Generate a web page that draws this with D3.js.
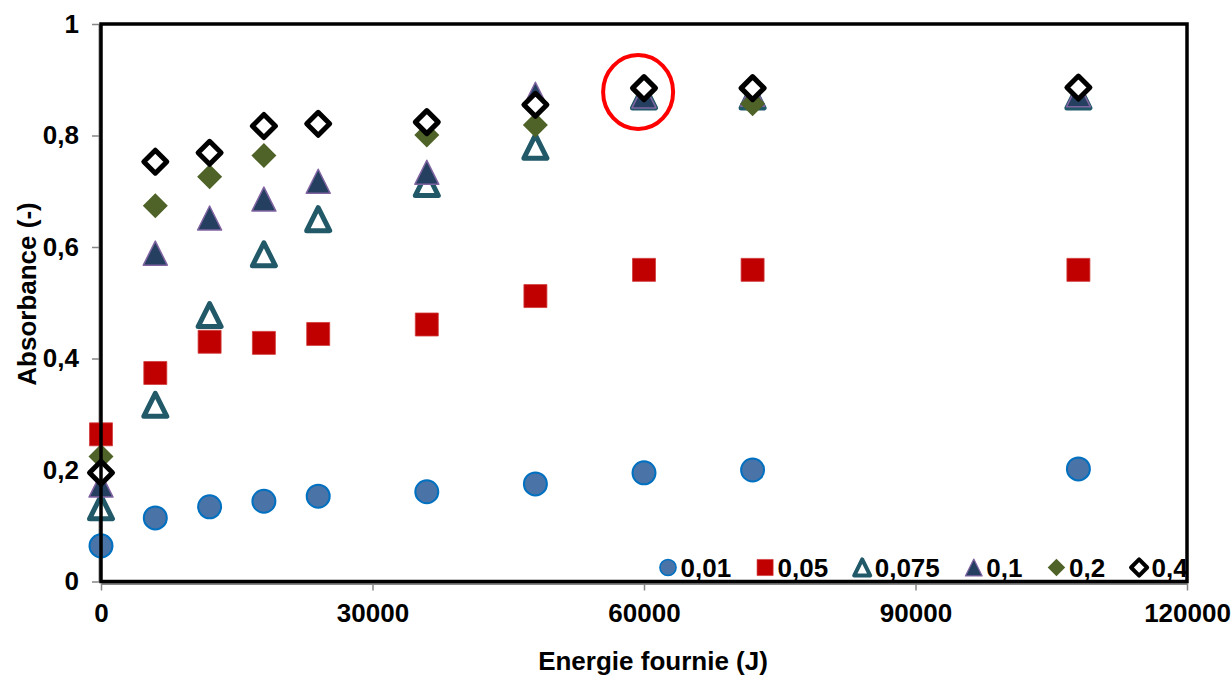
<!DOCTYPE html>
<html>
<head>
<meta charset="utf-8">
<script src="https://cdn.jsdelivr.net/npm/d3@7"></script>
<style>
  body { margin: 0; background: #fff; }
  svg { display: block; font-family: "Liberation Sans", Arial, sans-serif; font-weight: bold; }
  .tick text { font-size: 26px; fill: #000; }
  .tick line { stroke: #868686; stroke-width: 1.5; }
  .domain { stroke: #868686; stroke-width: 2; }
</style>
</head>
<body>
<svg id="chart" width="1232" height="675"></svg>
<script>
// energy supplied (J)
const energie = [0, 6000, 12000, 18000, 24000, 36000, 48000, 60000, 72000, 108000];

// absorbance for each concentration
const abs001  = [0.064, 0.114, 0.134, 0.144, 0.153, 0.161, 0.175, 0.195, 0.200, 0.202];
const abs005  = [0.264, 0.374, 0.430, 0.428, 0.444, 0.461, 0.512, 0.559, 0.559, 0.559];
const abs0075 = [0.133, 0.317, 0.478, 0.587, 0.650, 0.713, 0.780, 0.870, 0.870, 0.870];
const abs01   = [0.173, 0.589, 0.652, 0.686, 0.718, 0.734, 0.874, 0.871, 0.874, 0.873];
const abs02   = [0.224, 0.674, 0.726, 0.764, 0.822, 0.801, 0.819, 0.885, 0.857, 0.885];
const abs04   = [0.195, 0.753, 0.769, 0.817, 0.821, 0.824, 0.855, 0.885, 0.885, 0.886];

const seriesNames = ["0,01", "0,05", "0,075", "0,1", "0,2", "0,4"];
const seriesValues = [abs001, abs005, abs0075, abs01, abs02, abs04];

const xTicks = [0, 30000, 60000, 90000, 120000];
const yTicks = [0, 0.2, 0.4, 0.6, 0.8, 1];

// highlighted point (red circle)
const highlightX = 59350;
const highlightY = 0.878;

// marker look per series
const markers = [
  { shape: "circle",   size: 23, fill: "#4a74a8", stroke: "#0070c0", sw: 2 },
  { shape: "square",   size: 23, fill: "#c00000", stroke: "#d23c3c", sw: 0.8 },
  { shape: "triangle", size: 23, fill: "#ffffff", stroke: "#215968", sw: 5 },
  { shape: "triangle", size: 24, fill: "#243f60", stroke: "#8064a2", sw: 1.5 },
  { shape: "diamond",  size: 25, fill: "#4f6228", stroke: "none", sw: 0 },
  { shape: "diamond",  size: 23, fill: "#ffffff", stroke: "#000000", sw: 5 }
];

const svg = d3.select("#chart");
const margin = { top: 24, right: 45, bottom: 93.5, left: 101 };
const width = +svg.attr("width");
const height = +svg.attr("height");

const xScale = d3.scaleLinear().domain([0, 120000]).range([margin.left, width - margin.right]);
const yScale = d3.scaleLinear().domain([0, 1]).range([height - margin.bottom, margin.top]);

const fr = d3.formatLocale({ decimal: ",", thousands: "", grouping: [3], currency: ["", ""] });
const yFmt = d => d === 0 ? "0" : (d === 1 ? "1" : fr.format(".1f")(d));

function markerPath(shape, s) {
  const h = s / 2;
  if (shape === "circle") return `M${h},0A${h},${h},0,1,1,${-h},0A${h},${h},0,1,1,${h},0Z`;
  if (shape === "square") return `M${-h},${-h}h${s}v${s}h${-s}Z`;
  if (shape === "triangle") return `M0,${-h}L${h},${h}L${-h},${h}Z`;
  return `M0,${-h}L${h},0L0,${h}L${-h},0Z`;
}

// axes (grey, ticks outside)
const xAxis = d3.axisBottom(xScale).tickValues(xTicks).tickFormat(d3.format("d")).tickSize(7).tickSizeOuter(0).tickPadding(13);
svg.append("g")
  .attr("transform", `translate(0, ${yScale(0) + 2})`)
  .call(xAxis);

const yAxis = d3.axisLeft(yScale).tickValues(yTicks).tickFormat(yFmt).tickSize(7).tickSizeOuter(0).tickPadding(13);
svg.append("g")
  .attr("transform", `translate(${xScale(0) - 2}, 0)`)
  .call(yAxis);

// data points
const points = svg.append("g");
seriesValues.forEach((vals, i) => {
  const m = markers[i];
  points.append("g").selectAll("path")
    .data(vals)
    .enter().append("path")
      .attr("d", markerPath(m.shape, m.size))
      .attr("transform", (d, j) => `translate(${xScale(energie[j])}, ${yScale(d)})`)
      .attr("fill", m.fill)
      .attr("stroke", m.stroke)
      .attr("stroke-width", m.sw)
      .attr("stroke-linejoin", "round");
});

// red highlight circle
svg.append("ellipse")
  .attr("cx", xScale(highlightX))
  .attr("cy", yScale(highlightY))
  .attr("rx", 35)
  .attr("ry", 37)
  .attr("fill", "none")
  .attr("stroke", "#ff0000")
  .attr("stroke-width", 4);

// legend inside the plot, bottom right
const legend = svg.append("g").attr("transform", `translate(0, ${yScale(0) - 14})`);
let lx = 668;
seriesNames.forEach((name, i) => {
  const m = markers[i];
  legend.append("path")
    .attr("d", markerPath(m.shape, m.size * 0.7))
    .attr("transform", `translate(${lx}, 0)`)
    .attr("fill", m.fill)
    .attr("stroke", m.stroke)
    .attr("stroke-width", m.sw * 0.8)
    .attr("stroke-linejoin", "round");
  const t = legend.append("text")
    .attr("x", lx + 12.5)
    .attr("y", 9)
    .attr("font-size", 26)
    .text(name);
  lx += 12.5 + t.node().getComputedTextLength() + 34;
});

// plot frame (drawn last so it sits over the legend edge)
svg.append("rect")
  .attr("x", xScale(0))
  .attr("y", yScale(1))
  .attr("width", xScale(120000) - xScale(0))
  .attr("height", yScale(0) - yScale(1))
  .attr("fill", "none")
  .attr("stroke", "#000")
  .attr("stroke-width", 3.5);

// axis titles
svg.append("text")
  .attr("x", 653)
  .attr("y", 670)
  .attr("text-anchor", "middle")
  .attr("font-size", 26)
  .text("Energie fournie (J)");

svg.append("text")
  .attr("transform", "translate(36, 294) rotate(-90)")
  .attr("text-anchor", "middle")
  .attr("font-size", 26)
  .text("Absorbance (-)");
</script>
</body>
</html>
